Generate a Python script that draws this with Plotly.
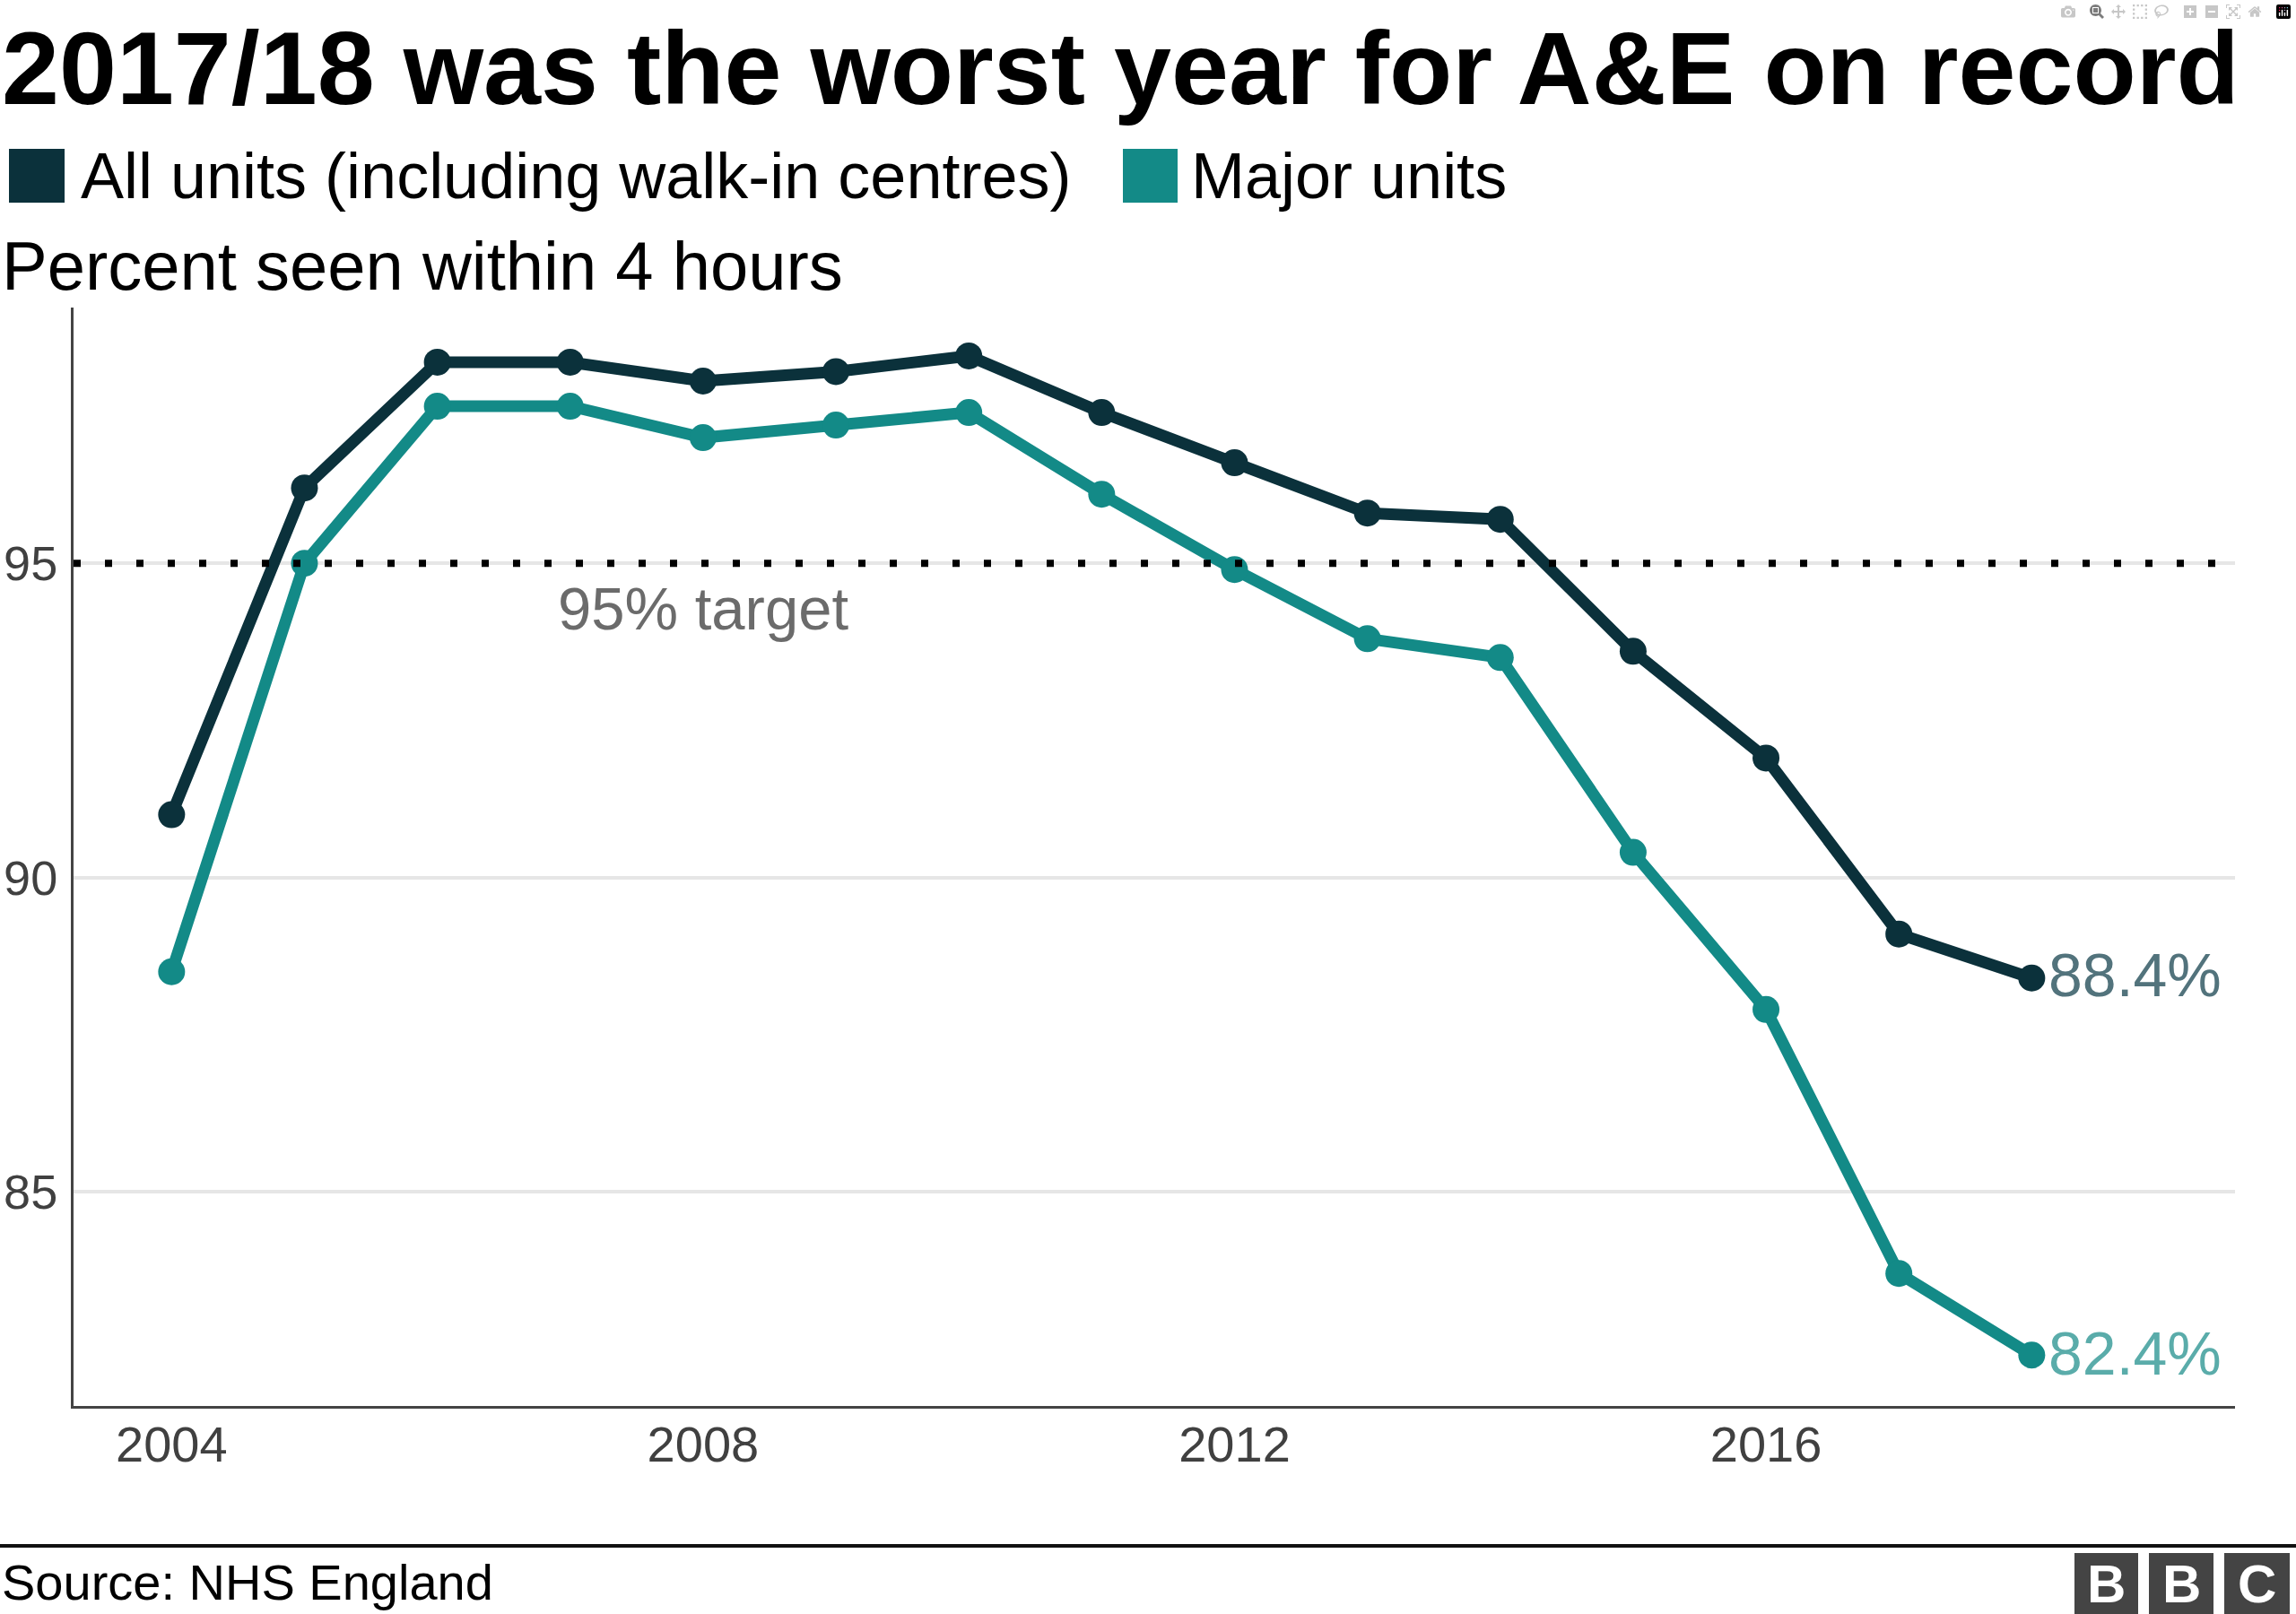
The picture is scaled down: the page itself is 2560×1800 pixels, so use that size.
import plotly.graph_objects as go

years = list(range(2004, 2019))
all_units = [91.0, 96.2, 98.2, 98.2, 97.9, 98.05, 98.3, 97.4, 96.6, 95.8, 95.7, 93.6, 91.9, 89.1, 88.4]
major_units = [88.5, 95.0, 97.5, 97.5, 97.0, 97.2, 97.4, 96.1, 94.9, 93.8, 93.5, 90.4, 87.9, 83.7, 82.4]
series_names = ["All units (including walk-in centres)", "Major units"]
end_labels = ["88.4%", "82.4%"]
x_ticks = [2004, 2008, 2012, 2016]
y_ticks = [85, 90, 95]
target = 95

W, H = 2560, 1800
L, R, T, B = 82, 2492, 343, 1568
PW, PH = R - L, B - T


def px(x):
    return (x - L) / PW


def py(y):
    return (B - y) / PH


DARK = "#0b313b"
TEAL = "#138a87"
FONT = "Liberation Sans, Arial, Helvetica, sans-serif"

fig = go.Figure()
for vals, name, col in [(all_units, series_names[0], DARK), (major_units, series_names[1], TEAL)]:
    fig.add_trace(go.Scatter(
        x=years, y=vals, name=name, mode="lines+markers",
        line=dict(color=col, width=13),
        marker=dict(color=col, size=30),
        showlegend=False, hoverinfo="x+y",
    ))

shapes = []
# 95% target dotted line
shapes.append(dict(type="line", xref="paper", yref="y", x0=0, x1=1, y0=target, y1=target,
                   line=dict(color="black", width=8, dash="8px,27px")))
# legend squares
shapes.append(dict(type="rect", xref="paper", yref="paper", x0=px(10), x1=px(72), y0=py(226), y1=py(166),
                   fillcolor=DARK, line=dict(width=0)))
shapes.append(dict(type="rect", xref="paper", yref="paper", x0=px(1252), x1=px(1313), y0=py(226), y1=py(166),
                   fillcolor=TEAL, line=dict(width=0)))
# footer line
shapes.append(dict(type="line", xref="paper", yref="paper", x0=px(0), x1=px(W), y0=py(1724), y1=py(1724),
                   line=dict(color="#111111", width=4)))
# BBC blocks
for x0, x1 in [(2313, 2384), (2396, 2468), (2480, 2553)]:
    shapes.append(dict(type="rect", xref="paper", yref="paper", x0=px(x0), x1=px(x1), y0=py(1800), y1=py(1732),
                       fillcolor="#444444", line=dict(width=0)))

ann = []
ann.append(dict(text="<b>2017/18 was the worst year for A&E on record</b>", xref="paper", yref="paper",
                x=px(0), y=py(76), xanchor="left", yanchor="middle", showarrow=False,
                font=dict(size=115, color="black", family=FONT)))
ann.append(dict(text=series_names[0], xref="paper", yref="paper", x=px(88), y=py(196),
                xanchor="left", yanchor="middle", showarrow=False, font=dict(size=72, color="black", family=FONT)))
ann.append(dict(text=series_names[1], xref="paper", yref="paper", x=px(1326), y=py(196),
                xanchor="left", yanchor="middle", showarrow=False, font=dict(size=72, color="black", family=FONT)))
ann.append(dict(text="Percent seen within 4 hours", xref="paper", yref="paper", x=px(0), y=py(296),
                xanchor="left", yanchor="middle", showarrow=False, font=dict(size=76, color="black", family=FONT)))
ann.append(dict(text="95% target", xref="x", yref="paper", x=2008, y=py(678),
                xanchor="center", yanchor="middle", showarrow=False, font=dict(size=67, color="#6b6b6b", family=FONT)))
ann.append(dict(text=end_labels[0], xref="x", yref="y", x=years[-1], y=all_units[-1], xshift=17, yshift=4,
                xanchor="left", yanchor="middle", showarrow=False, font=dict(size=68, color="#52737c", family=FONT)))
ann.append(dict(text=end_labels[1], xref="x", yref="y", x=years[-1], y=major_units[-1], xshift=17, yshift=2,
                xanchor="left", yanchor="middle", showarrow=False, font=dict(size=68, color="#5aacaa", family=FONT)))
ann.append(dict(text="Source: NHS England", xref="paper", yref="paper", x=px(0), y=py(1764),
                xanchor="left", yanchor="middle", showarrow=False, font=dict(size=56, color="black", family=FONT)))
for cx, letter in [(2348.5, "B"), (2432, "B"), (2516.5, "C")]:
    ann.append(dict(text="<b>" + letter + "</b>", xref="paper", yref="paper", x=px(cx), y=py(1766),
                    xanchor="center", yanchor="middle", showarrow=False,
                    font=dict(size=60, color="white", family=FONT)))

fig.update_layout(
    width=W, height=H,
    margin=dict(l=L, r=W - R, t=T, b=H - B, pad=0, autoexpand=False),
    paper_bgcolor="white", plot_bgcolor="white",
    shapes=shapes, annotations=ann,
    font=dict(family=FONT),
    xaxis=dict(range=[2003.262, 2019.53], tickvals=x_ticks, ticktext=[str(t) for t in x_ticks],
               showgrid=False, zeroline=False, showline=True, linecolor="#444444", linewidth=3,
               ticks="", ticklen=0, automargin=False,
               tickfont=dict(size=56, color="#404040", family=FONT), ticklabelstandoff=-8),
    yaxis=dict(range=[81.59, 99.07], tickvals=y_ticks, ticktext=[str(t) for t in y_ticks],
               showgrid=True, gridcolor="#e6e6e6", gridwidth=4, zeroline=False,
               showline=True, linecolor="#444444", linewidth=3,
               ticks="", ticklen=0, automargin=False,
               tickfont=dict(size=54, color="#404040", family=FONT), ticklabelstandoff=4),
)

fig.write_html("out.html", post_script="document.body.style.margin='0';document.body.style.overflow='hidden';")
